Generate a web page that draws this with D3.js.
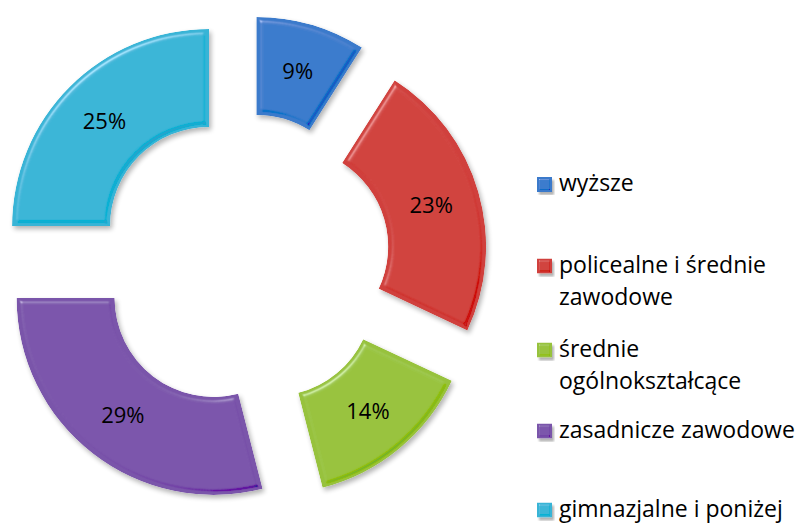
<!DOCTYPE html>
<html>
<head>
<meta charset="utf-8">
<script src="https://cdn.jsdelivr.net/npm/d3@7"></script>
<style>
  body { margin: 0; background: #fff; }
  svg { display: block; font-family: "Open Sans", Lato, sans-serif; }
</style>
</head>
<body>
<div class="chart-box"></div>
<script>
/* data */
const categories = ["wyższe", "policealne i średnie zawodowe", "średnie ogólnokształcące", "zasadnicze zawodowe", "gimnazjalne i poniżej"];
const shares = [9, 23, 14, 29, 25];
const colors = ["#3a7acb", "#d0413d", "#97c23c", "#7a54aa", "#38b4d6"];

let width = 799, height = 523;
let cx = 243, cy = 260;
let outerR = 197, innerR = 99, explode = 48;

let svg = d3.select(".chart-box")
  .append("svg")
  .attr("width", width)
  .attr("height", height);

/* bevel + shadow filter: light edge top-left, dark edge bottom-right */
let defs = svg.append("defs");
function bevel(id, blur, scale) {
  let f = defs.append("filter").attr("id", id)
    .attr("x", "-10%").attr("y", "-10%").attr("width", "130%").attr("height", "130%");
  f.append("feGaussianBlur").attr("in", "SourceAlpha").attr("stdDeviation", blur).attr("result", "blur");
  f.append("feSpecularLighting").attr("in", "blur").attr("surfaceScale", scale)
    .attr("specularConstant", 0.8).attr("specularExponent", 40)
    .attr("lighting-color", "#ffffff").attr("result", "spec")
    .append("feDistantLight").attr("azimuth", 235).attr("elevation", 45);
  f.append("feComposite").attr("in", "spec").attr("in2", "SourceAlpha").attr("operator", "in").attr("result", "specOut");
  f.append("feSpecularLighting").attr("in", "blur").attr("surfaceScale", scale)
    .attr("specularConstant", 0.8).attr("specularExponent", 40)
    .attr("lighting-color", "#ffffff").attr("result", "spec2")
    .append("feDistantLight").attr("azimuth", 55).attr("elevation", 45);
  f.append("feComposite").attr("in", "spec2").attr("in2", "SourceAlpha").attr("operator", "in").attr("result", "specOut2");
  f.append("feComposite").attr("in", "SourceGraphic").attr("in2", "specOut")
    .attr("operator", "arithmetic").attr("k1", 0).attr("k2", 1).attr("k3", 0.4).attr("k4", 0).attr("result", "lit1");
  f.append("feComposite").attr("in", "lit1").attr("in2", "specOut2")
    .attr("operator", "arithmetic").attr("k1", 0).attr("k2", 1).attr("k3", -0.3).attr("k4", 0).attr("result", "lit2");
  f.append("feComposite").attr("in", "lit2").attr("in2", "SourceAlpha").attr("operator", "in").attr("result", "lit");
  f.append("feGaussianBlur").attr("in", "SourceAlpha").attr("stdDeviation", blur).attr("result", "sblur");
  f.append("feOffset").attr("in", "sblur").attr("dx", 2).attr("dy", 3).attr("result", "soff");
  f.append("feComponentTransfer").attr("in", "soff").attr("result", "shadow")
    .append("feFuncA").attr("type", "linear").attr("slope", 0.3);
  let m = f.append("feMerge");
  m.append("feMergeNode").attr("in", "shadow");
  m.append("feMergeNode").attr("in", "lit");
}
bevel("bevel", 2.5, 4);
bevel("bevelSmall", 1.2, 3);

/* pie */
let pie = d3.pie().sort(null).value(d => d);
let arcs = pie(shares);
let arc = d3.arc().innerRadius(innerR).outerRadius(outerR);
let labelArc = d3.arc().innerRadius((innerR + outerR) / 2).outerRadius((innerR + outerR) / 2);

let g = svg.append("g").attr("transform", `translate(${cx},${cy})`);

let slices = g.selectAll("g.slice")
  .data(arcs)
  .enter()
  .append("g")
  .attr("class", "slice")
  .attr("transform", d => {
    let a = (d.startAngle + d.endAngle) / 2;
    return `translate(${Math.sin(a) * explode},${-Math.cos(a) * explode})`;
  });

slices.append("path")
  .attr("d", arc)
  .attr("fill", (d, i) => colors[i])
  .attr("filter", "url(#bevel)");

slices.append("text")
  .attr("transform", d => `translate(${labelArc.centroid(d)})`)
  .attr("text-anchor", "middle")
  .attr("dy", "0.35em")
  .style("font-size", "22px")
  .style("fill", "#000")
  .text(d => d.data + "%");

/* legend */
let legendY = [184.5, 266, 350, 431, 510];
let legend = svg.append("g");
categories.forEach((c, i) => {
  let row = legend.append("g").attr("transform", `translate(537,${legendY[i]})`);
  row.append("rect")
    .attr("x", 0).attr("y", -7.5).attr("width", 15).attr("height", 15)
    .attr("fill", colors[i])
    .attr("filter", "url(#bevelSmall)");
  let t = row.append("text")
    .attr("x", 22).attr("y", 0)
    .style("font-size", "23px").style("fill", "#000");
  // wrap words to legend width
  let words = c.split(" "), line = [], lines = [];
  let probe = t.append("tspan");
  words.forEach(w => {
    line.push(w);
    probe.text(line.join(" "));
    if (probe.node().getComputedTextLength() > 250 && line.length > 1) {
      line.pop();
      lines.push(line.join(" "));
      line = [w];
    }
  });
  lines.push(line.join(" "));
  probe.remove();
  lines.forEach((l, j) => {
    t.append("tspan").attr("x", 22).attr("dy", j === 0 ? "0.3em" : "1.38em").text(l);
  });
});
</script>
</body>
</html>
